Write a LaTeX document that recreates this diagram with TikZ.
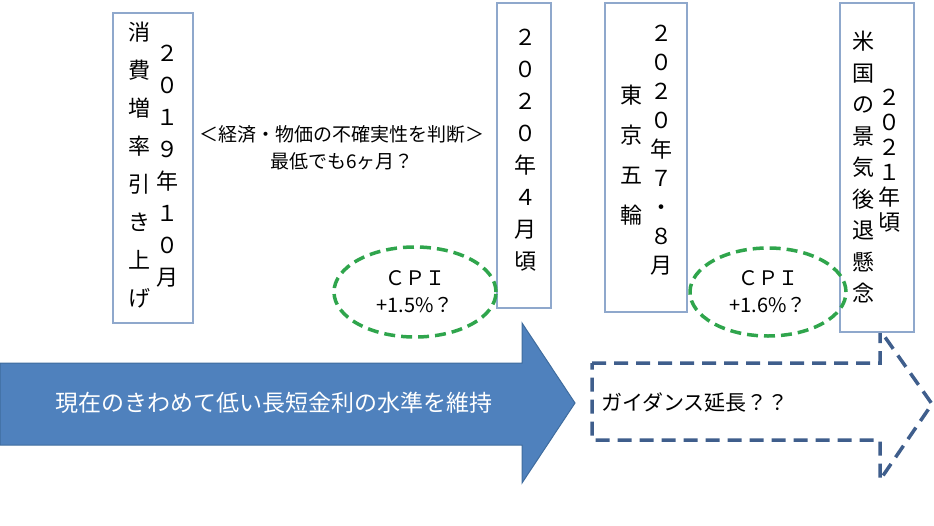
\documentclass[tikz,border=0pt]{standalone}
\usepackage{fontspec}
\setmainfont{Noto Sans CJK JP}
\usepackage{xcolor}
\usepackage{tikz}
\usetikzlibrary{shapes.geometric, positioning}
\definecolor{BojFrame}{HTML}{8FA8CC}
\definecolor{BojGreen}{HTML}{2FA54C}
\definecolor{BojBlue}{HTML}{4F81BD}
\definecolor{BojBlueDark}{HTML}{3F6C9E}
\definecolor{BojSlate}{HTML}{3F5E8C}

\begin{document}
\begin{tikzpicture}[x=1pt, y=-1pt, every node/.style={inner sep=0pt}]
      \tikzset{
        event/.style={rectangle, draw=BojFrame, line width=1.5pt, fill=white},
        vcol/.style={align=center, anchor=north, font=\fontsize{22pt}{#1pt}\selectfont},
        cpi/.style={ellipse, draw=BojGreen, line width=3.5pt, dash pattern=on 11pt off 6pt, minimum width=162pt, minimum height=90pt, align=center, font=\fontsize{20pt}{27pt}\selectfont},
        policy/.style={fill=BojBlue, draw=BojBlueDark, line width=1pt, line join=miter},
        outlook/.style={draw=BojSlate, line width=3.5pt, dash pattern=on 14pt off 8pt}
      }
      \useasboundingbox (0,0) rectangle (934,525);

      % Arrows
      \draw[policy] (0,363) -- (522,363) -- (522,323) -- (575,403) -- (522,483) -- (522,445) -- (0,445) -- cycle;
      \draw[outlook] (592,363) -- (880,363) -- (880,330) -- (932,404) -- (880,480) -- (880,440) -- (592,440) -- cycle;
      \node[text=white, font=\fontsize{23pt}{26pt}\selectfont] (keep) at (274,403) {現在のきわめて低い長短金利の水準を維持};
      \node[anchor=west, font=\fontsize{21pt}{24pt}\selectfont] (guide) at (601,403) {ガイダンス延長？？};

      % Event boxes
      \node[event, minimum width=80pt, minimum height=310pt] (tax) at (153,168) {};
      \node[event, minimum width=54pt, minimum height=305pt] (apr) at (524,155.5) {};
      \node[event, minimum width=82pt, minimum height=309pt] (games) at (646,157.5) {};
      \node[event, minimum width=74pt, minimum height=329pt] (usa) at (877,167.5) {};

      \node[vcol=32] (taxdate) at (167,45) {２\\０\\１\\９\\年\\１\\０\\月};
      \node[vcol=38] (taxnote) at (139,22) {消\\費\\増\\率\\引\\き\\上\\げ};
      \node[vcol=32] (aprdate) at (525,29) {２\\０\\２\\０\\年\\４\\月\\頃};
      \node[vcol=29] (gamesdate) at (661,25) {２\\０\\２\\０\\年\\７\\・\\８\\月};
      \node[vcol=40] (gamesnote) at (631,85) {東\\京\\五\\輪};
      \node[vcol=31.5] (usanote) at (863,31) {米\\国\\の\\景\\気\\後\\退\\懸\\念};
      \node[vcol=25] (usadate) at (889,89) {２\\０\\２\\１\\年\\頃};

      % Notes
      \node[align=center, font=\fontsize{19pt}{27pt}\selectfont] (judge) at (342,148) {＜経済・物価の不確実性を判断＞\\最低でも6ヶ月？};
      \node[cpi] (cpia) at (415,292) {ＣＰＩ\\+1.5\%？};
      \node[cpi, minimum width=156pt, minimum height=88pt] (cpib) at (768,292) {ＣＰＩ\\+1.6\%？};

    \end{tikzpicture}
\end{document}
